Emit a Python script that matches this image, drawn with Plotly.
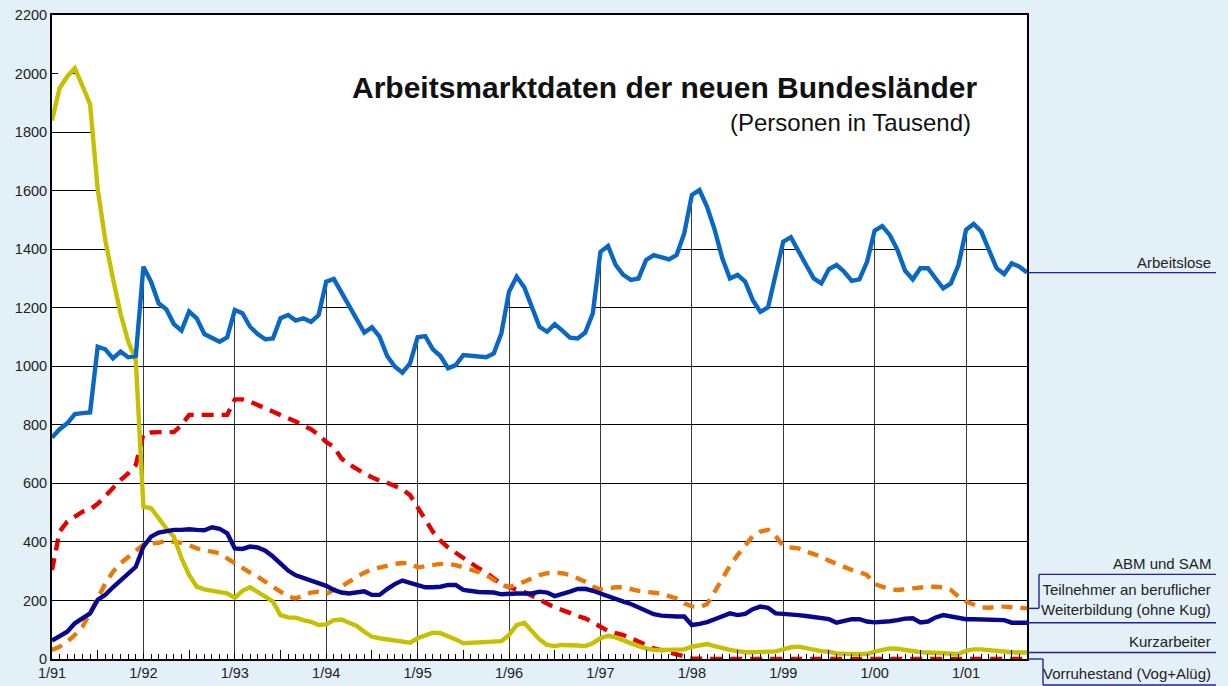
import numpy as np
import plotly.graph_objects as go

# ---------------- data (thousands of persons, monthly from 1/91) ----------------
months = list(range(129))  # 0 = Jan 1991 ... 128 = Sep 2001
year_ticks = [0, 12, 24, 36, 48, 60, 72, 84, 96, 108, 120]
year_labels = ["1/91", "1/92", "1/93", "1/94", "1/95", "1/96", "1/97", "1/98", "1/99", "1/00", "1/01"]
y_ticks = [0, 200, 400, 600, 800, 1000, 1200, 1400, 1600, 1800, 2000, 2200]

arbeitslose = [
    757, 785, 805, 837, 840, 842, 1067, 1058, 1027, 1050, 1031, 1035,
    1340, 1289, 1215, 1195, 1144, 1122, 1187, 1164, 1110, 1095, 1084, 1099,
    1192, 1181, 1135, 1110, 1092, 1095, 1164, 1175, 1156, 1164, 1152, 1175,
    1289, 1298, 1253, 1209, 1158, 1115, 1133, 1101, 1035, 999, 978, 1010,
    1099, 1103, 1058, 1035, 993, 1004, 1038, 1035, 1033, 1031, 1044, 1113,
    1255, 1306, 1270, 1205, 1135, 1118, 1144, 1122, 1098, 1095, 1115, 1181,
    1391, 1411, 1346, 1312, 1295, 1300, 1363, 1380, 1374, 1365, 1380, 1454,
    1585, 1602, 1545, 1466, 1369, 1300, 1312, 1289, 1226, 1186, 1201, 1312,
    1426, 1441, 1397, 1346, 1300, 1283, 1332, 1346, 1323, 1292, 1297, 1357,
    1463, 1479, 1448, 1397, 1326, 1297, 1335, 1335, 1300, 1266, 1283, 1346,
    1466, 1486, 1460, 1397, 1335, 1315, 1352, 1340, 1320,
]

kurzarbeiter = [
    1840, 1950, 1990, 2018, 1958, 1895, 1605, 1430, 1300, 1180, 1085, 1020,
    520, 515, 481, 446, 418, 344, 287, 247, 238, 233, 230, 224,
    209, 233, 245, 227, 213, 196, 150, 142, 141, 133, 127, 116,
    118, 133, 135, 124, 113, 93, 76, 71, 67, 63, 59, 56,
    71, 82, 90, 88, 79, 67, 54, 55, 56, 57, 57, 61,
    82, 116, 124, 93, 67, 48, 44, 48, 48, 46, 44, 54,
    71, 79, 74, 63, 54, 44, 36, 31, 31, 31, 31, 33,
    42, 47, 51, 44, 36, 31, 27, 23, 23, 23, 24, 26,
    33, 40, 42, 36, 31, 27, 25, 19, 18, 17, 17, 17,
    25, 31, 36, 35, 31, 25, 23, 22, 20, 19, 18, 17,
    28, 33, 33, 30, 27, 25, 23, 22, 22,
]

weiterbildung = [
    63, 79, 93, 122, 139, 156, 202, 219, 245, 270, 295, 315,
    384, 418, 432, 438, 441, 441, 443, 441, 440, 450, 445, 429,
    378, 376, 384, 381, 370, 350, 327, 302, 286, 277, 270, 261,
    250, 236, 227, 224, 229, 231, 219, 219, 239, 256, 268, 261,
    253, 245, 245, 247, 253, 253, 236, 232, 229, 228, 227, 221,
    224, 224, 224, 224, 230, 227, 215, 221, 230, 239, 240, 233,
    224, 211, 204, 196, 188, 176, 162, 153, 148, 145, 145, 145,
    116, 120, 126, 136, 147, 156, 150, 154, 170, 179, 175, 156,
    154, 153, 150, 147, 143, 141, 136, 124, 129, 136, 136, 128,
    125, 126, 129, 133, 138, 139, 125, 128, 142, 150, 145, 138,
    136, 136, 136, 136, 136, 133, 124, 123, 124,
]

abm_sam = [
    31, 42, 59, 82, 110, 156, 207, 258, 298, 327, 350, 372,
    391, 395, 397, 404, 402, 397, 389, 378, 372, 367, 361, 344,
    327, 310, 295, 281, 264, 247, 230, 213, 207, 218, 227, 230,
    222, 236, 247, 264, 281, 295, 306, 313, 320, 325, 328, 327,
    313, 318, 322, 325, 325, 321, 313, 306, 297, 287, 272, 253,
    245, 253, 264, 276, 287, 293, 295, 293, 287, 276, 264, 247,
    238, 241, 245, 245, 238, 233, 229, 227, 224, 215, 207, 190,
    180, 176, 188, 230, 276, 318, 355, 389, 420, 435, 441, 420,
    386, 381, 378, 367, 359, 350, 336, 325, 312, 304, 297, 287,
    256, 245, 238, 236, 239, 243, 247, 247, 247, 245, 236, 213,
    196, 184, 176, 175, 179, 179, 176, 174, 173,
]

vorruhestand = [
    304, 435, 469, 488, 503, 511, 530, 557, 586, 611, 634, 663,
    769, 774, 775, 775, 775, 799, 834, 834, 834, 834, 834, 834,
    887, 887, 879, 868, 856, 845, 834, 822, 811, 797, 785, 766,
    741, 725, 685, 665, 648, 634, 621, 609, 602, 591, 580, 560,
    520, 475, 435, 404, 381, 363, 344, 327, 310, 295, 276, 256,
    245, 238, 229, 216, 202, 188, 176, 167, 156, 147, 139, 124,
    107, 96, 88, 82, 71, 59, 48, 36, 30, 22, 14, 9,
    2, 0, 0, 0, 0, 0, 0, 0, 0, 0, 0, 0,
    0, 0, 0, 0, 0, 0, 0, 0, 0, 0, 0, 0,
    0, 0, 0, 0, 0, 0, 0, 0, 0, 0, 0, 0,
    0, 0, 0, 0, 0, 0, 0, 0, 0,
]

Y_MAX = 2200
X_MAX = 128

# ---------------- styles ----------------
BG = "#e4f0f7"
C_ALO = "#0a68c4"
C_WB = "#08088f"
C_KA = "#c6c000"
C_VR = "#e60000"
C_ABM = "#e8780a"
C_LEAD = "#22229a"
TXT = "#222222"
FONT = "Liberation Sans, Arial, sans-serif"


def upper_envelope(x, a, b):
    """Upper envelope of two polylines, including crossing points."""
    ex, ey = [], []
    for i in range(len(x)):
        if i > 0:
            d0 = a[i - 1] - b[i - 1]
            d1 = a[i] - b[i]
            if d0 * d1 < 0:
                t = d0 / (d0 - d1)
                ex.append(x[i - 1] + t * (x[i] - x[i - 1]))
                ey.append(a[i - 1] + t * (a[i] - a[i - 1]))
        ex.append(x[i])
        ey.append(max(a[i], b[i]))
    return ex, ey


fig = go.Figure()

# white mask above the uppermost curves (hides grid there)
env_x, env_y = upper_envelope(months, arbeitslose, kurzarbeiter)
fig.add_trace(go.Scatter(
    x=env_x + [X_MAX, 0], y=env_y + [Y_MAX, Y_MAX],
    fill="toself", fillcolor="white", mode="lines", line=dict(width=0),
    hoverinfo="skip", showlegend=False))

series = [
    ("Vorruhestand", vorruhestand, C_VR, "12px,8px"),
    ("ABM und SAM", abm_sam, C_ABM, "11px,8px"),
    ("Kurzarbeiter", kurzarbeiter, C_KA, "solid"),
    ("Weiterbildung", weiterbildung, C_WB, "solid"),
    ("Arbeitslose", arbeitslose, C_ALO, "solid"),
]
for name, vals, col, dash in series:
    fig.add_trace(go.Scatter(
        x=months, y=vals, mode="lines", name=name,
        line=dict(color=col, width=4.4, dash=dash),
        showlegend=False))

# dummy trace for half-year tick axis
fig.add_trace(go.Scatter(x=[None], y=[None], xaxis="x2", showlegend=False))

# ---------------- right-hand labels with leader lines ----------------
def py(v):
    return v / Y_MAX

PX_W = 975.0
PX_H = 644.0
x_edge = 1.0
x_end = 1.0 + 189 / PX_W
x_text = 1.0 + 186 / PX_W

shapes = []
annos = []

def lead(points):
    for (x0, y0), (x1, y1) in zip(points[:-1], points[1:]):
        shapes.append(dict(type="line", xref="paper", yref="paper",
                           x0=x0, y0=y0, x1=x1, y1=y1,
                           line=dict(color=C_LEAD, width=1.4)))

def label(text, yp):
    annos.append(dict(text=text, xref="paper", yref="paper", x=x_text, y=yp,
                      xanchor="right", yanchor="middle", showarrow=False, align="right",
                      font=dict(size=15, color=TXT, family=FONT)))

# Arbeitslose
yA = py(arbeitslose[-1])
lead([(x_edge, yA), (x_end, yA)])
label("Arbeitslose", yA + 10 / PX_H)

# ABM und SAM
yB = py(abm_sam[-1])
yB2 = yB + 34 / PX_H
xk = 1.0 + 12 / PX_W
lead([(x_edge, yB), (xk, yB), (xk, yB2), (x_end, yB2)])
label("ABM und SAM", yB2 + 11 / PX_H)

# Weiterbildung
yW = py(weiterbildung[-1])
lead([(x_edge, yW), (x_end, yW)])
label("Teilnehmer an beruflicher<br>Weiterbildung (ohne Kug)", yW + 23 / PX_H)

# Kurzarbeiter
yK = py(kurzarbeiter[-1])
lead([(x_edge, yK), (x_end, yK)])
label("Kurzarbeiter", yK + 11 / PX_H)

# Vorruhestand
yV = py(vorruhestand[-1])
yV2 = yV - 26 / PX_H
xv = 1.0 + 16 / PX_W
lead([(x_edge, yV), (xv, yV), (xv, yV2), (x_end, yV2)])
label("Vorruhestand (Vog+Alüg)", yV2 + 12 / PX_H)

# titles
annos.append(dict(text="<b>Arbeitsmarktdaten der neuen Bundesländer</b>",
                  xref="paper", yref="paper", x=(979 - 52) / PX_W, y=(659 - 88) / PX_H,
                  xanchor="right", yanchor="middle", showarrow=False,
                  font=dict(size=30, color="#111111", family=FONT)))
annos.append(dict(text="(Personen in Tausend)",
                  xref="paper", yref="paper", x=(973 - 52) / PX_W, y=(659 - 122) / PX_H,
                  xanchor="right", yanchor="middle", showarrow=False,
                  font=dict(size=24, color="#111111", family=FONT)))

fig.update_layout(
    width=1228, height=686,
    margin=dict(l=52, r=201, t=15, b=27),
    paper_bgcolor=BG, plot_bgcolor="white",
    font=dict(family=FONT, size=14.5, color=TXT),
    shapes=shapes, annotations=annos,
    xaxis=dict(range=[0, X_MAX], tickvals=year_ticks, ticktext=year_labels,
               automargin=False,
               showgrid=True, gridcolor="#3a3a3a", gridwidth=1.3,
               ticks="inside", ticklen=6, tickcolor="black", tickwidth=1.3,
               minor=dict(dtick=1, tick0=0, ticks="inside", ticklen=5,
                          tickcolor="black", tickwidth=1, showgrid=False),
               showline=True, linecolor="black", linewidth=2, mirror=True,
               zeroline=False, tickfont=dict(size=14.5, color=TXT)),
    xaxis2=dict(range=[0, X_MAX], overlaying="x", anchor="y", side="bottom",
                automargin=False,
                tickvals=[m + 6 for m in year_ticks], showticklabels=False,
                ticks="inside", ticklen=9, tickcolor="black", tickwidth=1.3,
                showgrid=False, showline=False, zeroline=False),
    yaxis=dict(range=[0, Y_MAX], tickvals=y_ticks, showgrid=True,
               automargin=False,
               gridcolor="black", gridwidth=1,
               ticks="inside", ticklen=6, tickcolor="black",
               showline=True, linecolor="black", linewidth=2, mirror=True,
               zeroline=False, tickfont=dict(size=14.5, color=TXT)),
    showlegend=False,
)

fig.write_html(
    "out.html",
    config={"displayModeBar": False},
    post_script="document.body.style.margin='0';document.body.style.overflow='hidden';"
                "document.body.style.background='%s';" % BG,
)
